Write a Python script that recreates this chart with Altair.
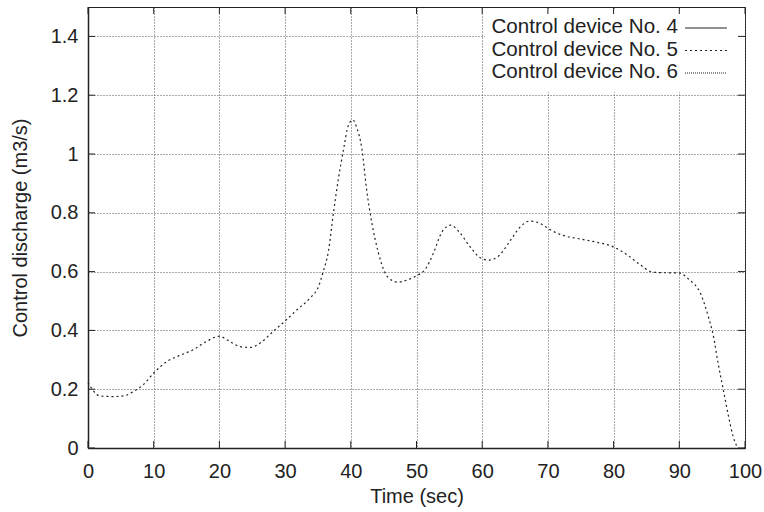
import altair as alt
import pandas as pd

# ---- data ----
time_s = [0, 1.8, 3.9, 5.4, 6.9, 8.4, 10, 12, 14, 16, 18, 20, 21.6, 23.1, 24.7, 26.2,
          28.2, 29.9, 31.8, 33.8, 35.1, 35.8, 36.6, 37.3, 38.1, 38.9, 39.6, 40.3, 40.9,
          41.7, 42.4, 43.2, 44.2, 45.2, 46.2, 47.2, 48.5, 50, 51.3, 52.6, 53.8, 55.2,
          56.6, 58.1, 59.7, 61, 62.6, 64.2, 65.8, 67.3, 68.8, 70.3, 72.3, 74.9, 77.4,
          80, 82, 84, 86, 88.1, 89.8, 91.6, 93.2, 94.4, 95.2, 95.9, 96.7, 97.5, 98.2, 98.8]
discharge_no5 = [0.223, 0.177, 0.175, 0.177, 0.192, 0.215, 0.255, 0.294, 0.315, 0.334,
                 0.362, 0.38, 0.362, 0.345, 0.342, 0.357, 0.397, 0.43, 0.47, 0.51, 0.55,
                 0.6, 0.67, 0.79, 0.914, 1.016, 1.095, 1.116, 1.09, 1.016, 0.88, 0.766,
                 0.664, 0.596, 0.571, 0.564, 0.571, 0.586, 0.607, 0.664, 0.732, 0.758,
                 0.732, 0.686, 0.647, 0.639, 0.655, 0.703, 0.752, 0.772, 0.764, 0.743,
                 0.723, 0.711, 0.7, 0.684, 0.658, 0.624, 0.598, 0.596, 0.596, 0.571,
                 0.527, 0.448, 0.38, 0.289, 0.198, 0.107, 0.039, 0.004]
x_ticks = [0, 10, 20, 30, 40, 50, 60, 70, 80, 90, 100]
y_ticks = [0, 0.2, 0.4, 0.6, 0.8, 1.0, 1.2, 1.4]
legend_labels = ["Control device No. 4", "Control device No. 5", "Control device No. 6"]
legend_dash = [[1, 0], [2, 3], [1, 1]]

FONT = "Liberation Sans"
INK = "#222222"
W, H = 657, 441
TICK = 7

df = pd.DataFrame({"t": time_s, "v": discharge_no5})
xt = pd.DataFrame({"t": x_ticks})
yt = pd.DataFrame({"v": y_ticks})

xs = alt.Scale(domain=[0, 100], nice=False, zero=False)
ys = alt.Scale(domain=[0, 1.5], nice=False, zero=False)
x_axis = alt.Axis(values=x_ticks, title="Time (sec)", grid=True, ticks=False, tickSize=0,
                  labelPadding=13, titlePadding=5, format="d",
                  labelOverlap=False, labelFlush=False)
y_axis = alt.Axis(values=y_ticks, title="Control discharge (m3/s)", grid=True, ticks=False,
                  tickSize=0, labelPadding=10, titlePadding=20, format="~g",
                  labelOverlap=False, labelFlush=False)
X = alt.X("t:Q", scale=xs, axis=x_axis)
Y = alt.Y("v:Q", scale=ys, axis=y_axis)

curve = alt.Chart(df).mark_line(
    color=INK, strokeWidth=1.2, strokeDash=[2, 3], interpolate="monotone"
).encode(x=X, y=Y)

legend_bg = alt.Chart(pd.DataFrame({"a": [0]})).mark_rect(fill="white").encode(
    x=alt.value(397), x2=alt.value(655), y=alt.value(2), y2=alt.value(85)
)

tick_bottom = alt.Chart(xt).mark_rule(color=INK, strokeWidth=1).encode(
    x=X, y=alt.value(H), y2=alt.value(H - TICK))
tick_top = alt.Chart(xt).mark_rule(color=INK, strokeWidth=1).encode(
    x=X, y=alt.value(0), y2=alt.value(TICK))
tick_left = alt.Chart(yt).mark_rule(color=INK, strokeWidth=1).encode(
    y=Y, x=alt.value(0), x2=alt.value(TICK))
tick_right = alt.Chart(yt).mark_rule(color=INK, strokeWidth=1).encode(
    y=Y, x=alt.value(W), x2=alt.value(W - TICK))

layers = [curve, legend_bg, tick_bottom, tick_top, tick_left, tick_right]

for i, (lab, dash) in enumerate(zip(legend_labels, legend_dash)):
    yy = 20 + i * 22.5
    ldf = pd.DataFrame({"label": [lab]})
    layers.append(alt.Chart(ldf).mark_text(
        align="right", baseline="middle", font=FONT, fontSize=20.6, color=INK
    ).encode(text="label:N", x=alt.value(590), y=alt.value(yy)))
    layers.append(alt.Chart(ldf).mark_rule(
        color=INK, strokeWidth=1.2, strokeDash=dash
    ).encode(x=alt.value(597), x2=alt.value(639), y=alt.value(yy + 1)))

chart = alt.layer(*layers).properties(
    width=W, height=H,
    autosize=alt.AutoSizeParams(type="none"),
    padding={"left": 88, "top": 7, "right": 19, "bottom": 64},
    background="white",
).configure_view(
    stroke=INK, strokeWidth=1
).configure_axis(
    labelFont=FONT, titleFont=FONT, labelFontSize=20, titleFontSize=20,
    labelColor=INK, titleColor=INK, titleFontWeight="normal",
    domainColor=INK, domainWidth=1.5,
    gridColor="#555555", gridDash=[1, 2], gridWidth=1, gridOpacity=1,
)

chart.save("out.html", embed_options={"renderer": "svg", "actions": False})
